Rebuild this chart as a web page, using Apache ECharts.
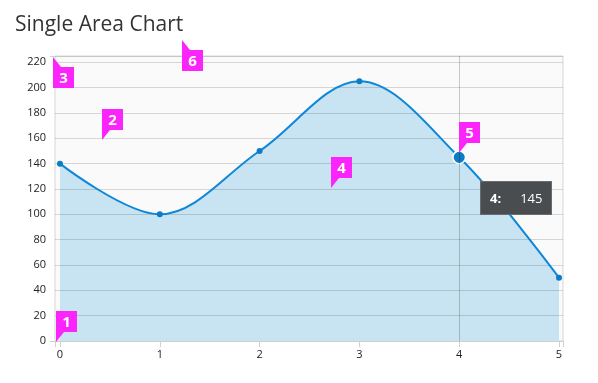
<!DOCTYPE html>
<html>
<head>
<meta charset="utf-8">
<script src="https://cdn.jsdelivr.net/npm/echarts@6/dist/echarts.min.js"></script>
<style>
html,body{margin:0;padding:0;background:#fff;}
#chart{width:598px;height:383px;}
</style>
</head>
<body>
<div id="chart"></div>
<script>
// ---- data ----
const titleText = 'Single Area Chart';
const xValues = [0, 1, 2, 3, 4, 5];
const yValues = [140, 100, 150, 205, 145, 50];
const xTickLabels = [0, 1, 2, 3, 4, 5];
const yTickStep = 20;
const calloutLabels = ['1', '2', '3', '4', '5', '6'];
const highlightIndex = 4;

// ---- layout (annotation anchors, pixels) ----
const calloutLayout = [
  {x: 56, y: 311, up: false},
  {x: 102, y: 109, up: false},
  {x: 53, y: 67, up: true},
  {x: 331, y: 157, up: false},
  {x: 459, y: 122, up: false},
  {x: 182, y: 50, up: true}
];

const pairs = xValues.map((x, i) => [x, yValues[i]]);
const font = '"Open Sans", "DejaVu Sans", sans-serif';
const magenta = '#fb24fb';
const gridLeft = 55, gridTop = 56, gridRight = 35, gridBottom = 42;
const yMin = 0, yMax = 225, xMin = -0.05, xMax = 5.04;

const graphics = [];
calloutLabels.forEach((lab, i) => {
  const c = calloutLayout[i];
  const w = 21, h = 21;
  const tail = c.up
    ? [[c.x, c.y], [c.x + 8, c.y], [c.x, c.y - 10]]
    : [[c.x, c.y + h], [c.x + 8, c.y + h], [c.x, c.y + h + 10]];
  graphics.push({type: 'polygon', shape: {points: tail}, style: {fill: magenta}, z: 100});
  graphics.push({type: 'rect', shape: {x: c.x, y: c.y, width: w, height: h}, style: {fill: magenta}, z: 100});
  graphics.push({type: 'text', x: c.x + w / 2, y: c.y + h / 2 + 1, z: 101,
    style: {text: lab, fill: '#fff', font: 'bold 15px ' + font, align: 'center', verticalAlign: 'middle'}});
});

const chart = echarts.init(document.getElementById('chart'), null, {renderer: 'canvas'});
chart.setOption({
  animation: false,
  title: {
    text: titleText, left: 10, top: 10,
    textStyle: {fontFamily: font, fontSize: 21, fontWeight: 'normal', color: '#333'}
  },
  grid: {
    left: gridLeft, top: gridTop, right: gridRight, bottom: gridBottom,
    show: true, backgroundColor: '#fafafa', borderColor: '#d6d6d6', borderWidth: 1
  },
  tooltip: {
    trigger: 'axis',
    triggerOn: 'none',
    alwaysShowContent: true,
    transitionDuration: 0,
    backgroundColor: '#4a4d50',
    borderColor: '#6a6d70',
    borderWidth: 1,
    borderRadius: 0,
    padding: [6, 9],
    extraCssText: 'box-shadow:none;',
    textStyle: {color: '#fff', fontFamily: font, fontSize: 13},
    position: function () { return [480, 181]; },
    axisPointer: {type: 'line', lineStyle: {color: 'rgba(0,0,0,0.2)', width: 1, type: 'solid'}},
    formatter: function (params) {
      const p = params.find(q => q.seriesIndex === 1) || params[0];
      return '<span style="font-weight:bold">' + p.value[0] + ':</span>' +
        '<span style="display:inline-block;width:19px"></span>' + p.value[1];
    }
  },
  xAxis: {
    type: 'value', min: xMin, max: xMax, z: 10,
    axisLine: {show: true, lineStyle: {color: '#d0d0d0'}},
    axisTick: {show: true, length: 6, customValues: [xMin].concat(xTickLabels, [xMax]), lineStyle: {color: '#d0d0d0'}},
    axisLabel: {customValues: xTickLabels, margin: 8, color: '#222', fontFamily: font, fontSize: 11},
    splitLine: {show: false},
    axisPointer: {snap: true}
  },
  yAxis: [
    {
      type: 'value', min: yMin, max: yMax, interval: yTickStep, z: 10,
      axisLine: {show: false},
      axisTick: {show: false},
      axisLabel: {
        margin: 9, color: '#222', fontFamily: font, fontSize: 11,
        formatter: function (v) { return v % yTickStep === 0 ? String(v) : ''; }
      },
      splitLine: {show: true, lineStyle: {color: 'rgba(0,0,0,0.14)', width: 1}}
    },
    {
      type: 'value', min: yMin, max: yMax, position: 'left', z: 10,
      axisLine: {show: false},
      axisTick: {show: true, length: 5, customValues: [yMin, yMax], lineStyle: {color: '#d0d0d0'}},
      axisLabel: {show: false},
      splitLine: {show: false}
    }
  ],
  series: [
    {
      type: 'line', data: pairs, smooth: 0.35, z: 1,
      showSymbol: false, symbol: 'none',
      lineStyle: {width: 0},
      areaStyle: {color: '#c8e3f2', opacity: 1},
      silent: true,
      tooltip: {show: false},
      emphasis: {disabled: true}
    },
    {
      type: 'line', data: pairs, smooth: 0.35, z: 20,
      symbol: 'circle', symbolSize: 6, showSymbol: true,
      lineStyle: {color: '#0d7bc5', width: 2},
      itemStyle: {color: '#0d7bc5'},
      emphasis: {
        scale: 2.1,
        focus: 'none',
        lineStyle: {width: 2},
        itemStyle: {color: '#0d7bc5', borderColor: '#fff', borderWidth: 1.5}
      }
    }
  ],
  graphic: graphics
});
chart.dispatchAction({type: 'showTip', seriesIndex: 1, dataIndex: highlightIndex});
chart.dispatchAction({type: 'highlight', seriesIndex: 1, dataIndex: highlightIndex});
</script>
</body>
</html>
